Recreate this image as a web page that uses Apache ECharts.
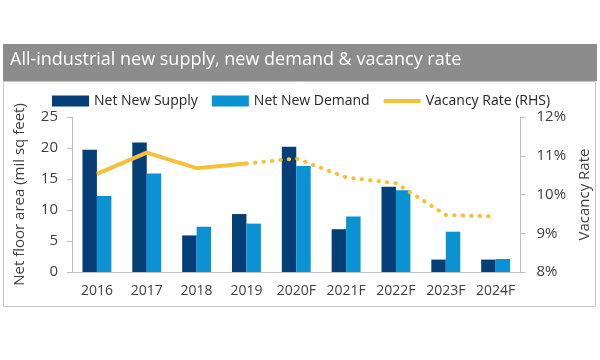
<!DOCTYPE html>
<html>
<head>
<meta charset="utf-8">
<script src="https://cdn.jsdelivr.net/npm/echarts@6/dist/echarts.min.js"></script>
<style>html,body{margin:0;padding:0;background:#fff;}#c{width:600px;height:360px;}</style>
</head>
<body>
<div id="c"></div>
<script>
const categories = ['2016','2017','2018','2019','2020F','2021F','2022F','2023F','2024F'];
const netNewSupply = [19.7, 20.9, 5.9, 9.35, 20.2, 6.9, 13.75, 2.0, 2.0];
const netNewDemand = [12.25, 15.9, 7.3, 7.8, 17.1, 8.95, 13.2, 6.5, 2.1];
const vacancyActual = [10.53, 11.08, 10.68, 10.8, null, null, null, null, null];
const vacancyForecast = [null, null, null, 10.8, 10.93, 10.44, 10.29, 9.47, 9.43];
const leftTicks = {min: 0, max: 25, interval: 5};
const rightTicks = {min: 8, max: 12, interval: 1};

const FONT = 'Open Sans';
const chart = echarts.init(document.getElementById('c'), null, {renderer: 'canvas'});
chart.setOption({
  animation: false,
  textStyle: {fontFamily: FONT},
  graphic: [
    {type: 'rect', shape: {x: 3, y: 44, width: 594, height: 37}, style: {fill: '#8c8c8c'}, z: -1},
    {type: 'rect', shape: {x: 3.5, y: 81.5, width: 592, height: 225}, style: {fill: 'none', stroke: '#c8c8c8', lineWidth: 1}, z: -1},
    {type: 'text', left: 10, top: 51, style: {text: 'All-industrial new supply, new demand & vacancy rate', fill: '#ffffff', font: '18px "' + FONT + '"'}}
  ],
  legend: {
    top: 89, left: 47,
    itemWidth: 37, itemHeight: 11, itemGap: 14,
    textStyle: {fontSize: 14, color: '#262626', fontFamily: FONT},
    data: [
      {name: 'Net New Supply', icon: 'rect'},
      {name: 'Net New Demand', icon: 'rect'},
      {name: 'Vacancy Rate (RHS)', icon: 'path://M0 0 H38 V4 H0 Z'}
    ]
  },
  grid: {left: 72, right: 71, top: 117, bottom: 88, containLabel: false},
  xAxis: {
    type: 'category', data: categories,
    axisLine: {lineStyle: {color: '#bfbfbf'}},
    axisTick: {show: false},
    axisLabel: {fontSize: 14, color: '#404040', margin: 12, interval: 0}
  },
  yAxis: [
    {
      type: 'value', min: leftTicks.min, max: leftTicks.max, interval: leftTicks.interval,
      name: 'Net floor area (mil sq feet)', nameLocation: 'middle', nameGap: 45,
      nameTextStyle: {fontSize: 15, color: '#404040'},
      splitLine: {show: false},
      axisLine: {show: true, lineStyle: {color: '#bfbfbf'}},
      axisTick: {show: true, length: 5, lineStyle: {color: '#bfbfbf'}},
      axisLabel: {fontSize: 15, color: '#404040', margin: 14}
    },
    {
      type: 'value', min: rightTicks.min, max: rightTicks.max, interval: rightTicks.interval,
      name: 'Vacancy Rate', nameLocation: 'middle', nameGap: 47,
      nameTextStyle: {fontSize: 15, color: '#404040'},
      splitLine: {show: false},
      axisLine: {show: true, lineStyle: {color: '#bfbfbf'}},
      axisTick: {show: true, length: 5, lineStyle: {color: '#bfbfbf'}},
      axisLabel: {fontSize: 15, color: '#404040', margin: 16, formatter: '{value}%'}
    }
  ],
  series: [
    {name: 'Net New Supply', type: 'bar', data: netNewSupply, barGap: '0%', barCategoryGap: '42%', itemStyle: {color: '#053f78'}},
    {name: 'Net New Demand', type: 'bar', data: netNewDemand, itemStyle: {color: '#0a92d2'}},
    {name: 'Vacancy Rate (RHS)', type: 'line', yAxisIndex: 1, data: vacancyActual, symbol: 'none', showSymbol: false,
      lineStyle: {color: '#f5c13a', width: 4}, itemStyle: {color: '#f5c13a'}, z: 5},
    {name: 'Vacancy Forecast', type: 'line', yAxisIndex: 1, data: vacancyForecast, symbol: 'none', showSymbol: false,
      lineStyle: {color: '#f5c13a', width: 4, type: [0.5, 8], cap: 'round'}, itemStyle: {color: '#f5c13a'}, z: 5}
  ]
});
</script>
</body>
</html>
